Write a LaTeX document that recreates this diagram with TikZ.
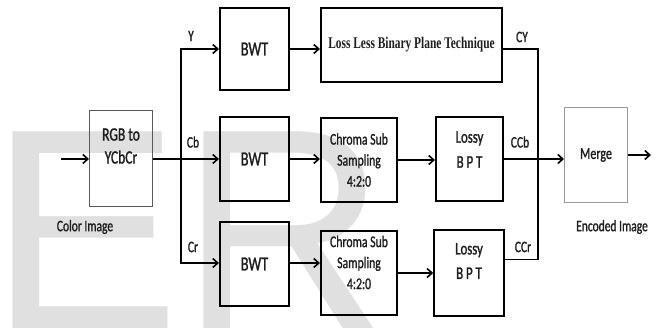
\documentclass[tikz,border=0pt]{standalone}
\usepackage{fontspec}
\usepackage{tikz}
\usetikzlibrary{arrows.meta, positioning}
\newfontfamily\calfont{Carlito}[FakeStretch=0.72, FakeBold=1.2]
\newfontfamily\timfont{Liberation Serif}[FakeStretch=0.7]
\newfontfamily\wmfont{Liberation Sans}
\definecolor{wmgray}{RGB}{224,224,224}
\definecolor{inkgray}{RGB}{30,30,30}

\begin{document}
\begin{tikzpicture}[
    x=1pt, y=-1pt,
    block/.style={
        rectangle, draw=black, line width=1.6pt,
        inner sep=0pt, align=center, text=inkgray,
        font=\calfont\fontsize{16.3}{21}\selectfont
    },
    thinblock/.style={block, line width=1pt},
    txt/.style={inner sep=0pt, align=center, text=inkgray},
    lbl/.style={txt, font=\calfont\fontsize{16}{19}\selectfont},
    arr/.style={-{Straight Barb[length=5pt, width=9pt, line width=1.6pt]}, line width=1.9pt},
    wire/.style={line width=1.9pt}
]
\useasboundingbox (0,0) rectangle (655,328);

% watermark
\begin{scope}
\clip (0,0) rectangle (655,328);
\node[anchor=base west, inner sep=0pt, text=wmgray, font=\wmfont\fontsize{286}{286}\selectfont] (wm) at (-10.6,328) {ER};
\end{scope}

% colour conversion
\node[thinblock, draw=black!65, minimum width=63pt, minimum height=96pt] (rgb) at (121,159) {};
\node[txt, font=\calfont\fontsize{18.8}{23}\selectfont] (rgbtxt) at (121,146) {RGB to\\YCbCr};
\node[lbl] (colimg) at (85,227) {Color Image};

% Y channel
\node[block, minimum width=69.5pt, minimum height=82.5pt, font=\calfont\fontsize{20}{24}\selectfont] (bwty) at (254.5,49) {BWT};
\node[block, minimum width=181.5pt, minimum height=74.5pt, font=\timfont\bfseries\fontsize{16.3}{20}\selectfont] (llbpt) at (411.5,45) {Loss Less Binary Plane Technique};

% Cb channel
\node[block, minimum width=69.5pt, minimum height=84.5pt, font=\calfont\fontsize{20}{24}\selectfont] (bwtcb) at (254.5,159) {BWT};
\node[block, minimum width=76.5pt, minimum height=84.5pt] (chrcb) at (359,160) {Chroma Sub\\Sampling\\4:2:0};
\node[block, minimum width=67.5pt, minimum height=84.5pt] (lossycb) at (469.5,159) {};
\node[txt, font=\calfont\fontsize{17.8}{25}\selectfont] (lossycbtxt) at (469.5,149.5) {Lossy\\B P T};

% Cr channel
\node[block, minimum width=69.5pt, minimum height=83.5pt, font=\calfont\fontsize{20}{24}\selectfont] (bwtcr) at (254.5,264) {BWT};
\node[block, minimum width=76.5pt, minimum height=84.5pt] (chrcr) at (359,273) {};
\node[txt, font=\calfont\fontsize{16.3}{21}\selectfont] (chrcrtxt) at (359,262.5) {Chroma Sub\\Sampling\\4:2:0};
\node[block, minimum width=70pt, minimum height=85.5pt] (lossycr) at (469,273) {};
\node[txt, font=\calfont\fontsize{17.8}{24.5}\selectfont] (lossycrtxt) at (469,261) {Lossy\\B P T};

% merging
\node[thinblock, draw=black!40, minimum width=63pt, minimum height=95pt, font=\calfont\fontsize{16.7}{20}\selectfont] (merge) at (596,155) {Merge};
\node[lbl] (encimg) at (612,227) {Encoded Image};

% channel labels
\node[lbl] (ly) at (191,36) {Y};
\node[lbl] (lcb) at (193,142) {Cb};
\node[lbl] (lcr) at (193,247) {Cr};
\node[lbl] (lcy) at (522,37) {CY};
\node[lbl] (lccb) at (520,142) {CCb};
\node[lbl] (lccr) at (523,247) {CCr};

% wires
\coordinate (in) at (61,159);
\coordinate (split) at (181,159);
\coordinate (join) at (538,159);
\coordinate (out) at (651,155);

\draw[arr] (in) -- (rgb.west);
\draw[arr] (rgb.east) -- (bwtcb.west);
\draw[arr] (split) |- (bwty.west);
\draw[arr] (split) |- ([yshift=1pt]bwtcr.west);

\draw[arr] (bwty.east) -- (bwty.east -| llbpt.west);
\draw[arr] (bwtcb.east) -- (bwtcb.east -| chrcb.west);
\draw[arr] (chrcb.east) -- (chrcb.east -| lossycb.west);
\draw[arr] ([yshift=1pt]bwtcr.east) -- ([yshift=1pt]bwtcr.east -| chrcr.west);
\draw[arr] (chrcr.east) -- (lossycr.west);

\draw[wire] (llbpt.east |- bwty.east) -| (join);
\draw[wire] ([yshift=13.5pt]lossycr.east) -| (join);
\draw[arr] (lossycb.east) -- (lossycb.east -| merge.west);
\draw[arr] (merge.east) -- (out);

\end{tikzpicture}
\end{document}
